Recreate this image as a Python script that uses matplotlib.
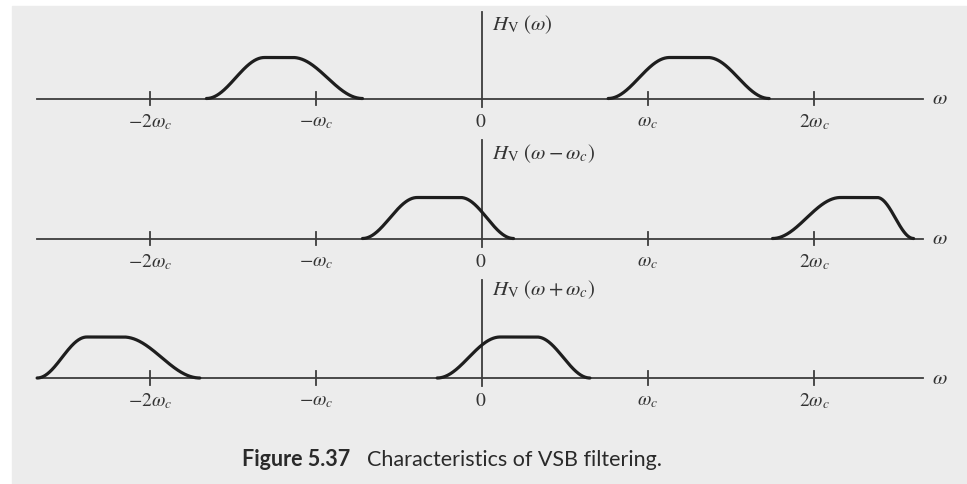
import numpy as np
import matplotlib.pyplot as plt
from matplotlib.patches import Rectangle

plt.rcParams['mathtext.fontset'] = 'stix'
plt.rcParams['font.family'] = ['Liberation Serif', 'DejaVu Serif']

# each band in units of w_c: lower foot, start of flat top, end of flat top, upper foot
bands_hv = [[-1.66, -1.31, -1.14, -0.72], [0.76, 1.13, 1.36, 1.73]]        # H_V(w)
bands_minus = [[-0.72, -0.39, -0.13, 0.19], [1.75, 2.16, 2.38, 2.60]]     # H_V(w - w_c)
bands_plus = [[-2.68, -2.38, -2.16, -1.70], [-0.27, 0.11, 0.33, 0.65]]    # H_V(w + w_c)
panel_bands = [bands_hv, bands_minus, bands_plus]

headings = [r'$H_{\rm V}\ (\omega)$',
            r'$H_{\rm V}\ (\omega - \omega_c)$',
            r'$H_{\rm V}\ (\omega + \omega_c)$']

tick_pos = [-2, -1, 1, 2]
tick_labels = [r'$-2\omega_c$', r'$-\omega_c$', r'$\omega_c$', r'$2\omega_c$']

W, H = 967, 485
X0, XSCALE = 482, 166        # pixel of w = 0, pixels per w_c
YSCALE = 41                  # pixels per unit gain
baselines = [99.5, 239.5, 379]
axis_top = [2.1, 2.4, 2.4]
heading_y = [1.82, 2.1, 2.17]
AX_LEFT, AX_RIGHT = (37 - X0) / XSCALE, (923 - X0) / XSCALE

ink = '#1e1e1e'
axis_ink = '#3c3c3c'
text_ink = '#333333'


def vsb_shape(w, edges):
    a, b, c, d = edges
    y = np.zeros_like(w)
    rise = (w >= a) & (w < b)
    y[rise] = 0.5 - 0.5 * np.cos(np.pi * (w[rise] - a) / (b - a))
    y[(w >= b) & (w <= c)] = 1.0
    fall = (w > c) & (w <= d)
    y[fall] = 0.5 + 0.5 * np.cos(np.pi * (w[fall] - c) / (d - c))
    return y


fig = plt.figure(figsize=(W / 100, H / 100), dpi=100, facecolor='white')
fig.patches.append(Rectangle((12 / W, 0), 1, 1 - 7 / H, transform=fig.transFigure,
                             color='#ececec', zorder=-10))

for k, bands in enumerate(panel_bands):
    b = baselines[k]
    ylo, yhi = -1.2, 2.4
    top_px, bot_px = b - yhi * YSCALE, b - ylo * YSCALE
    ax = fig.add_axes([0, (H - bot_px) / H, 1, (bot_px - top_px) / H])
    ax.set_xlim(-X0 / XSCALE, (W - X0) / XSCALE)
    ax.set_ylim(ylo, yhi)
    ax.axis('off')
    ax.patch.set_visible(False)

    # frequency axis and gain axis
    ax.plot([AX_LEFT, AX_RIGHT], [0, 0], color=axis_ink, lw=1.3, clip_on=False)
    ax.plot([0, 0], [-0.2, axis_top[k]], color=axis_ink, lw=1.3, clip_on=False)
    for t, lab in zip(tick_pos, tick_labels):
        ax.plot([t, t], [-0.17, 0.17], color=axis_ink, lw=1.3)
        ax.text(t, -0.55, lab, ha='center', va='center', fontsize=14, color=text_ink)
    ax.text(-0.01, -0.55, r'$0$', ha='center', va='center', fontsize=14, color=text_ink)
    ax.text((940 - X0) / XSCALE, 0, r'$\omega$', ha='center', va='center',
            fontsize=15, color=text_ink)
    ax.text(10 / XSCALE, heading_y[k], headings[k], ha='left', va='center',
            fontsize=15, color=text_ink)

    for e in bands:
        w = np.linspace(e[0], e[3], 300)
        ax.plot(w, vsb_shape(w, e), color=ink, lw=2.3,
                solid_capstyle='round', clip_on=False)

fig.text(242 / W, 1 - 460 / H, 'Figure 5.37', fontsize=15.5, fontweight='bold',
         family='Lato', color='#2a2a2a', va='center', ha='left')
fig.text(367 / W, 1 - 460 / H, 'Characteristics of VSB filtering.', fontsize=15.5,
         family='Lato', color='#2a2a2a', va='center', ha='left')

fig.savefig('out.png', dpi=100, facecolor=fig.get_facecolor())
